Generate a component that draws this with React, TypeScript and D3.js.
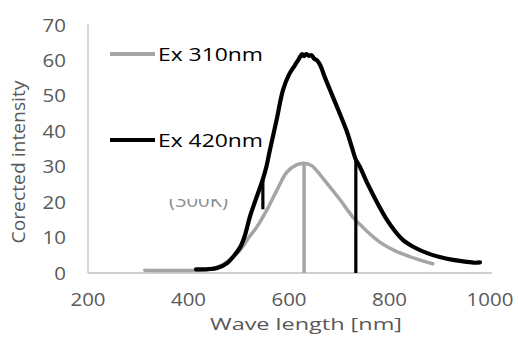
import React from "react";
import * as d3 from "d3";

const xTicks = [200, 400, 600, 800, 1000];
const yTicks = [0, 10, 20, 30, 40, 50, 60, 70];
const seriesNames = ["Ex 310nm", "Ex 420nm"];

// Ex 310nm (grey)
const ex310Nm = [313, 350, 400, 430, 460, 480, 503, 520, 536, 556, 576, 596, 615, 630, 645, 662, 680, 702, 727, 745, 761, 780, 801, 827, 855, 886];
const ex310Val = [0.8, 0.7, 0.7, 0.9, 1.8, 3.5, 6.5, 10, 13, 17.8, 23.4, 28.5, 30.5, 31, 30.3, 27.7, 24.5, 20.6, 15.8, 13.2, 11, 8.8, 7.0, 5.3, 3.9, 2.6];
// spikes (drop-outs) in Ex 310nm
const ex310SpikeNm = [630];
const ex310SpikeTop = [31];
const ex310SpikeBottom = [0];

// Ex 420nm (black)
const ex420Nm = [415, 440, 457, 477, 490, 503, 512, 522, 532, 542, 548, 555, 562, 575, 588, 600, 612, 620, 626, 630, 634, 640, 645, 650, 656, 662, 672, 685, 701, 715, 725, 733, 741, 757, 775, 795, 810, 827, 850, 875, 900, 926, 950, 970, 980];
const ex420Val = [1.0, 1.1, 1.4, 2.8, 4.8, 7.3, 10.5, 15.8, 20, 24, 26.5, 30, 34.7, 43, 51.6, 56, 58.7, 60.5, 61.8, 61.2, 61.8, 61.3, 61.5, 60.5, 60, 58.7, 55, 50.5, 45, 40, 35.5, 32, 30, 25, 20, 15, 12, 9.3, 7.2, 5.6, 4.5, 3.7, 3.2, 2.9, 3.0];
// spikes (drop-outs) in Ex 420nm
const ex420SpikeNm = [548, 733];
const ex420SpikeTop = [26.5, 32];
const ex420SpikeBottom = [18, 0];

const annotation = "(300K)";
const xTitle = "Wave length [nm]";
const yTitle = "Corected intensity";

export default function App() {
  const W = 518, H = 340;
  const x = d3.scaleLinear().domain([200, 1000]).range([88, 490]);
  const y = d3.scaleLinear().domain([0, 70]).range([273, 25]);
  const line = d3.line<[number, number]>().x(d => x(d[0])).y(d => y(d[1])).curve(d3.curveCatmullRom.alpha(0.5));
  const d310 = line(ex310Nm.map((n, i) => [n, ex310Val[i]] as [number, number])) || "";
  const d420 = line(ex420Nm.map((n, i) => [n, ex420Val[i]] as [number, number])) || "";
  const font = "'Open Sans', sans-serif";
  const grey = "#a5a5a5";
  const textCol = "#595959";
  const legendY = [54, 140];
  const legendCol = [grey, "#000"];
  const digitW = 11.7;
  return (
    <svg width={W} height={H} style={{ position: "absolute", left: 0, top: 0, background: "#fff" }} fontFamily={font}>
      <defs>
        <clipPath id="annClip">
          <rect x={150} y={199} width={100} height={20} />
        </clipPath>
      </defs>
      <rect width={W} height={H} fill="#fff" />
      {/* axes */}
      <line x1={x(200)} x2={x(200)} y1={y(70) - 1} y2={y(0)} stroke="#bfbfbf" strokeWidth={1.3} />
      <line x1={x(200)} x2={x(1000) + 2} y1={y(0)} y2={y(0)} stroke="#bfbfbf" strokeWidth={1.3} />
      {yTicks.map(t => (
        <text key={t} x={66} y={y(t) + 6.5} textAnchor="end" fontSize={18} fill={textCol} textLength={String(t).length * digitW} lengthAdjust="spacingAndGlyphs">{t}</text>
      ))}
      {xTicks.map(t => (
        <text key={t} x={x(t)} y={306} textAnchor="middle" fontSize={18} fill={textCol} textLength={String(t).length * digitW} lengthAdjust="spacingAndGlyphs">{t}</text>
      ))}
      <text x={306} y={330} textAnchor="middle" fontSize={17} fill={textCol} textLength={192} lengthAdjust="spacingAndGlyphs">{xTitle}</text>
      <text transform="translate(25,162) rotate(-90)" textAnchor="middle" fontSize={19} fill={textCol} textLength={163} lengthAdjust="spacingAndGlyphs">{yTitle}</text>
      <text x={169} y={207} fontSize={19} fill="#8c8c8c" clipPath="url(#annClip)" textLength={59} lengthAdjust="spacingAndGlyphs">{annotation}</text>
      {/* series */}
      <path d={d310} fill="none" stroke={grey} strokeWidth={3.5} strokeLinejoin="round" strokeLinecap="round" />
      {ex310SpikeNm.map((n, i) => (
        <line key={"g" + n} x1={x(n)} x2={x(n)} y1={y(ex310SpikeTop[i])} y2={y(ex310SpikeBottom[i])} stroke={grey} strokeWidth={3.5} />
      ))}
      <path d={d420} fill="none" stroke="#000" strokeWidth={4.2} strokeLinejoin="round" strokeLinecap="round" />
      {ex420SpikeNm.map((n, i) => (
        <line key={"b" + n} x1={x(n)} x2={x(n)} y1={y(ex420SpikeTop[i])} y2={y(ex420SpikeBottom[i])} stroke="#000" strokeWidth={3.2} />
      ))}
      {/* legend */}
      {seriesNames.map((s, i) => (
        <g key={s}>
          <line x1={110} x2={155} y1={legendY[i]} y2={legendY[i]} stroke={legendCol[i]} strokeWidth={4} />
          <text x={158} y={legendY[i] + 7} fontSize={19} fill="#000" textLength={105} lengthAdjust="spacingAndGlyphs">{s}</text>
        </g>
      ))}
    </svg>
  );
}
